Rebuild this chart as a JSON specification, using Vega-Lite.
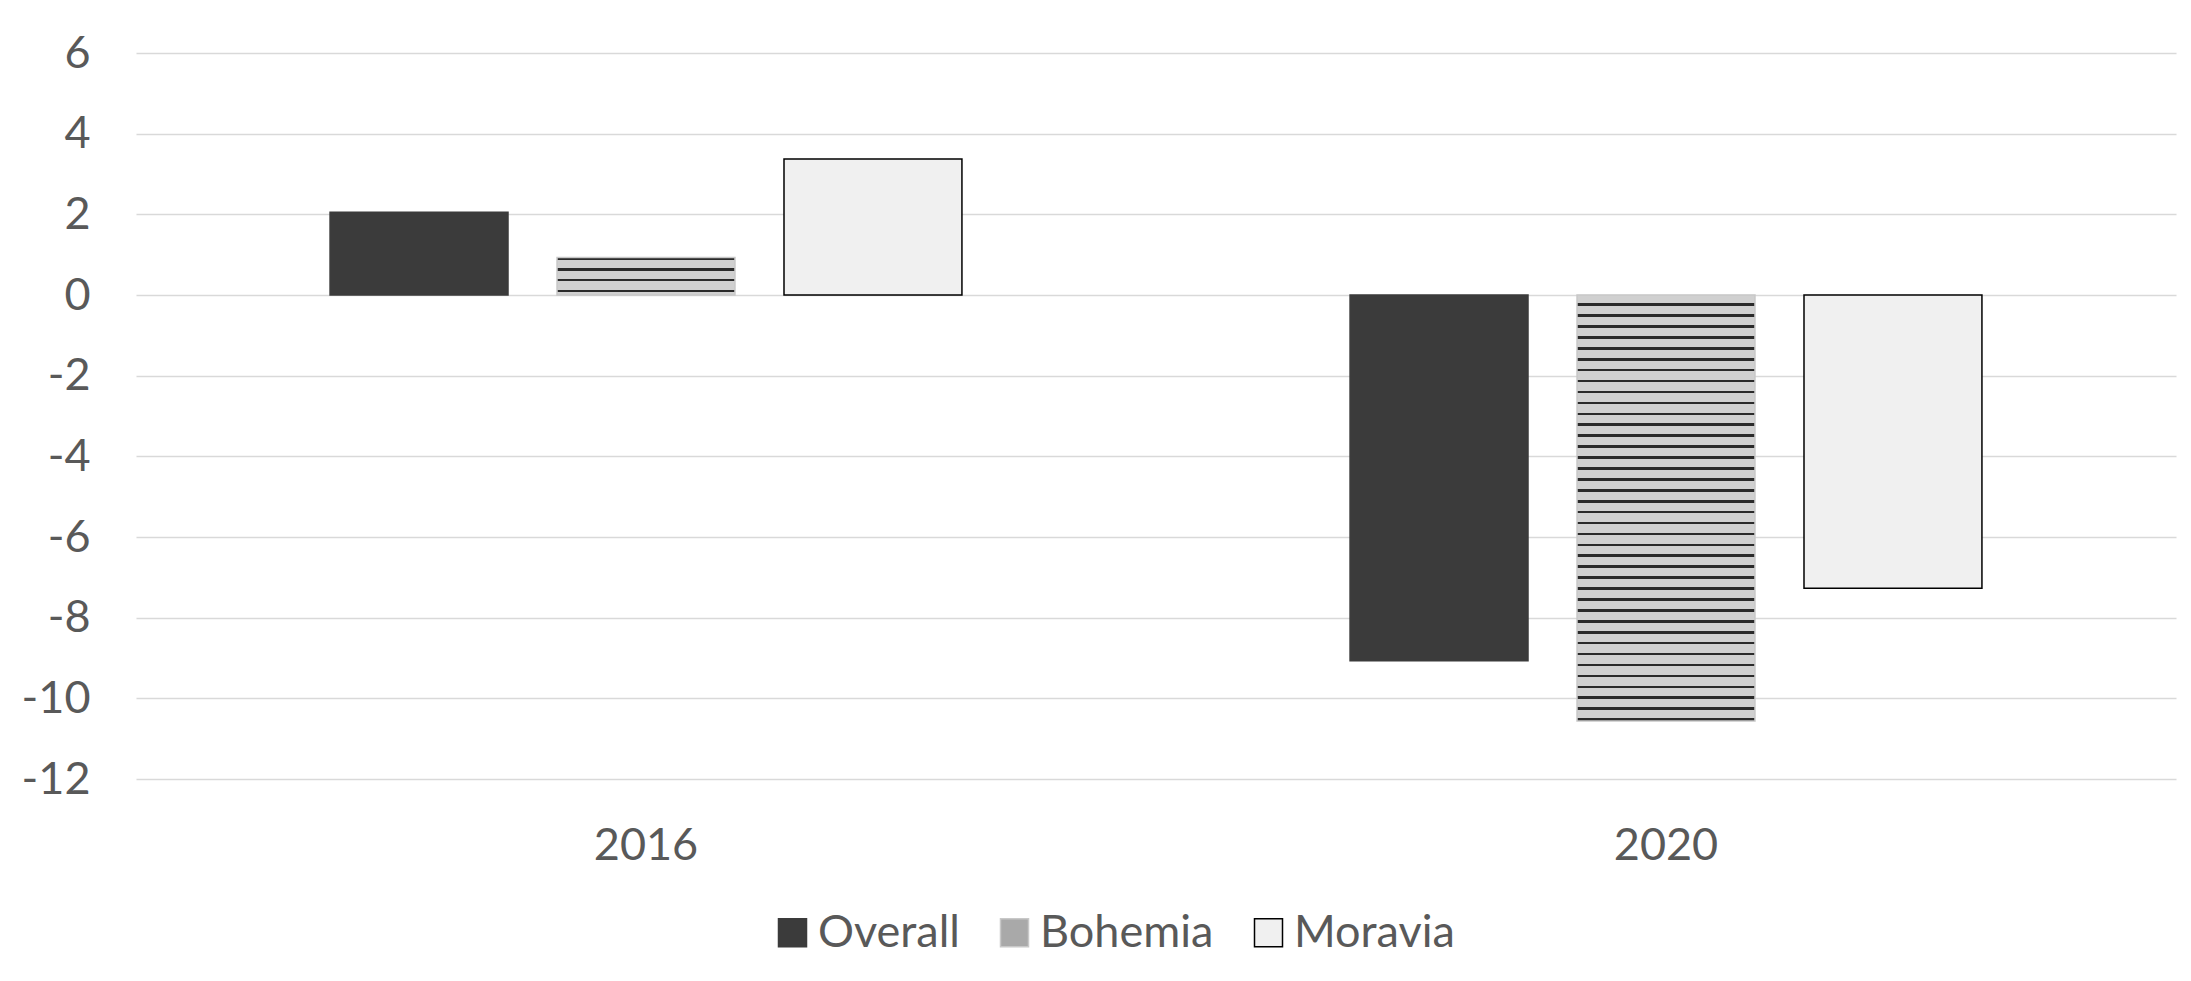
{
  "$schema": "https://vega.github.io/schema/vega-lite/v6.json",
  "width": 2040,
  "height": 726,
  "autosize": {"type": "none"},
  "padding": {"left": 136, "top": 53, "right": 15, "bottom": 202},
  "background": "white",
  "config": {
    "view": {"stroke": null},
    "font": "Lato",
    "axis": {"labelFont": "Lato", "labelFontSize": 45, "labelColor": "#595959"},
    "legend": {"labelFont": "Lato", "labelFontSize": 45, "labelColor": "#595959", "labelLimit": 500}
  },
  "data": {
    "values": [
      {"year": "2016", "series": "Overall", "value": 2.05},
      {"year": "2016", "series": "Bohemia", "value": 0.93},
      {"year": "2016", "series": "Moravia", "value": 3.37},
      {"year": "2020", "series": "Overall", "value": -9.07},
      {"year": "2020", "series": "Bohemia", "value": -10.56},
      {"year": "2020", "series": "Moravia", "value": -7.27}
    ]
  },
  "mark": {"type": "bar", "strokeWidth": 1.5},
  "encoding": {
    "x": {
      "field": "year",
      "type": "nominal",
      "scale": {"paddingInner": 0, "paddingOuter": 0},
      "axis": {"title": null, "labelAngle": 0, "domain": false, "ticks": false, "tickSize": 0, "labelPadding": 44}
    },
    "xOffset": {
      "field": "series",
      "type": "nominal",
      "sort": ["Overall", "Bohemia", "Moravia"],
      "scale": {"domain": ["Overall", "Bohemia", "Moravia"], "paddingInner": 0.216, "paddingOuter": 0.855}
    },
    "y": {
      "field": "value",
      "type": "quantitative",
      "scale": {"domain": [-12, 6], "nice": false},
      "axis": {
        "title": null,
        "values": [-12, -10, -8, -6, -4, -2, 0, 2, 4, 6],
        "labelExpr": "datum.value < 0 ? '-' + abs(datum.value) : '' + datum.value",
        "domain": false,
        "ticks": false,
        "tickSize": 0,
        "labelPadding": 46,
        "gridColor": "#d9d9d9",
        "gridWidth": 1.5
      }
    },
    "fill": {
      "field": "series",
      "type": "nominal",
      "scale": {"domain": ["Overall", "Bohemia", "Moravia"], "range": ["#3b3b3b", "#a9a9a9", "#f0f0f0"]},
      "legend": {
        "title": null,
        "orient": "none",
        "direction": "horizontal",
        "legendX": 634,
        "legendY": 857,
        "symbolType": "square",
        "symbolSize": 784,
        "symbolStrokeWidth": 1.5,
        "labelOffset": 3,
        "columnPadding": 32
      },
      "condition": [
        {
          "test": "datum.series === 'Bohemia' && datum.year === '2016'",
          "value": {
            "gradient": "linear", "x1": 0, "y1": 0, "x2": 0, "y2": 1,
            "stops": [
              {"offset": 0, "color": "#2a2a2a"}, {"offset": 0.062, "color": "#2a2a2a"},
              {"offset": 0.062, "color": "#d0d0d0"}, {"offset": 0.284, "color": "#d0d0d0"},
              {"offset": 0.284, "color": "#2a2a2a"}, {"offset": 0.349, "color": "#2a2a2a"},
              {"offset": 0.349, "color": "#d0d0d0"}, {"offset": 0.571, "color": "#d0d0d0"},
              {"offset": 0.571, "color": "#2a2a2a"}, {"offset": 0.636, "color": "#2a2a2a"},
              {"offset": 0.636, "color": "#d0d0d0"}, {"offset": 0.857, "color": "#d0d0d0"},
              {"offset": 0.857, "color": "#2a2a2a"}, {"offset": 0.922, "color": "#2a2a2a"},
              {"offset": 0.922, "color": "#d0d0d0"}, {"offset": 1, "color": "#d0d0d0"}
            ]
          }
        },
        {
          "test": "datum.series === 'Bohemia' && datum.year === '2020'",
          "value": {
            "gradient": "linear", "x1": 0, "y1": 0, "x2": 0, "y2": 1,
            "stops": [
              {"offset": 0, "color": "#d0d0d0"}, {"offset": 0.0195, "color": "#d0d0d0"}, {"offset": 0.0195, "color": "#2a2a2a"}, {"offset": 0.0256, "color": "#2a2a2a"},
              {"offset": 0.0256, "color": "#d0d0d0"}, {"offset": 0.0451, "color": "#d0d0d0"}, {"offset": 0.0451, "color": "#2a2a2a"}, {"offset": 0.0513, "color": "#2a2a2a"},
              {"offset": 0.0513, "color": "#d0d0d0"}, {"offset": 0.0708, "color": "#d0d0d0"}, {"offset": 0.0708, "color": "#2a2a2a"}, {"offset": 0.0769, "color": "#2a2a2a"},
              {"offset": 0.0769, "color": "#d0d0d0"}, {"offset": 0.0964, "color": "#d0d0d0"}, {"offset": 0.0964, "color": "#2a2a2a"}, {"offset": 0.1026, "color": "#2a2a2a"},
              {"offset": 0.1026, "color": "#d0d0d0"}, {"offset": 0.1221, "color": "#d0d0d0"}, {"offset": 0.1221, "color": "#2a2a2a"}, {"offset": 0.1282, "color": "#2a2a2a"},
              {"offset": 0.1282, "color": "#d0d0d0"}, {"offset": 0.1477, "color": "#d0d0d0"}, {"offset": 0.1477, "color": "#2a2a2a"}, {"offset": 0.1538, "color": "#2a2a2a"},
              {"offset": 0.1538, "color": "#d0d0d0"}, {"offset": 0.1733, "color": "#d0d0d0"}, {"offset": 0.1733, "color": "#2a2a2a"}, {"offset": 0.1795, "color": "#2a2a2a"},
              {"offset": 0.1795, "color": "#d0d0d0"}, {"offset": 0.1990, "color": "#d0d0d0"}, {"offset": 0.1990, "color": "#2a2a2a"}, {"offset": 0.2051, "color": "#2a2a2a"},
              {"offset": 0.2051, "color": "#d0d0d0"}, {"offset": 0.2246, "color": "#d0d0d0"}, {"offset": 0.2246, "color": "#2a2a2a"}, {"offset": 0.2308, "color": "#2a2a2a"},
              {"offset": 0.2308, "color": "#d0d0d0"}, {"offset": 0.2503, "color": "#d0d0d0"}, {"offset": 0.2503, "color": "#2a2a2a"}, {"offset": 0.2564, "color": "#2a2a2a"},
              {"offset": 0.2564, "color": "#d0d0d0"}, {"offset": 0.2759, "color": "#d0d0d0"}, {"offset": 0.2759, "color": "#2a2a2a"}, {"offset": 0.2821, "color": "#2a2a2a"},
              {"offset": 0.2821, "color": "#d0d0d0"}, {"offset": 0.3015, "color": "#d0d0d0"}, {"offset": 0.3015, "color": "#2a2a2a"}, {"offset": 0.3077, "color": "#2a2a2a"},
              {"offset": 0.3077, "color": "#d0d0d0"}, {"offset": 0.3272, "color": "#d0d0d0"}, {"offset": 0.3272, "color": "#2a2a2a"}, {"offset": 0.3333, "color": "#2a2a2a"},
              {"offset": 0.3333, "color": "#d0d0d0"}, {"offset": 0.3528, "color": "#d0d0d0"}, {"offset": 0.3528, "color": "#2a2a2a"}, {"offset": 0.3590, "color": "#2a2a2a"},
              {"offset": 0.3590, "color": "#d0d0d0"}, {"offset": 0.3785, "color": "#d0d0d0"}, {"offset": 0.3785, "color": "#2a2a2a"}, {"offset": 0.3846, "color": "#2a2a2a"},
              {"offset": 0.3846, "color": "#d0d0d0"}, {"offset": 0.4041, "color": "#d0d0d0"}, {"offset": 0.4041, "color": "#2a2a2a"}, {"offset": 0.4103, "color": "#2a2a2a"},
              {"offset": 0.4103, "color": "#d0d0d0"}, {"offset": 0.4297, "color": "#d0d0d0"}, {"offset": 0.4297, "color": "#2a2a2a"}, {"offset": 0.4359, "color": "#2a2a2a"},
              {"offset": 0.4359, "color": "#d0d0d0"}, {"offset": 0.4554, "color": "#d0d0d0"}, {"offset": 0.4554, "color": "#2a2a2a"}, {"offset": 0.4615, "color": "#2a2a2a"},
              {"offset": 0.4615, "color": "#d0d0d0"}, {"offset": 0.4810, "color": "#d0d0d0"}, {"offset": 0.4810, "color": "#2a2a2a"}, {"offset": 0.4872, "color": "#2a2a2a"},
              {"offset": 0.4872, "color": "#d0d0d0"}, {"offset": 0.5067, "color": "#d0d0d0"}, {"offset": 0.5067, "color": "#2a2a2a"}, {"offset": 0.5128, "color": "#2a2a2a"},
              {"offset": 0.5128, "color": "#d0d0d0"}, {"offset": 0.5323, "color": "#d0d0d0"}, {"offset": 0.5323, "color": "#2a2a2a"}, {"offset": 0.5385, "color": "#2a2a2a"},
              {"offset": 0.5385, "color": "#d0d0d0"}, {"offset": 0.5579, "color": "#d0d0d0"}, {"offset": 0.5579, "color": "#2a2a2a"}, {"offset": 0.5641, "color": "#2a2a2a"},
              {"offset": 0.5641, "color": "#d0d0d0"}, {"offset": 0.5836, "color": "#d0d0d0"}, {"offset": 0.5836, "color": "#2a2a2a"}, {"offset": 0.5897, "color": "#2a2a2a"},
              {"offset": 0.5897, "color": "#d0d0d0"}, {"offset": 0.6092, "color": "#d0d0d0"}, {"offset": 0.6092, "color": "#2a2a2a"}, {"offset": 0.6154, "color": "#2a2a2a"},
              {"offset": 0.6154, "color": "#d0d0d0"}, {"offset": 0.6349, "color": "#d0d0d0"}, {"offset": 0.6349, "color": "#2a2a2a"}, {"offset": 0.6410, "color": "#2a2a2a"},
              {"offset": 0.6410, "color": "#d0d0d0"}, {"offset": 0.6605, "color": "#d0d0d0"}, {"offset": 0.6605, "color": "#2a2a2a"}, {"offset": 0.6667, "color": "#2a2a2a"},
              {"offset": 0.6667, "color": "#d0d0d0"}, {"offset": 0.6862, "color": "#d0d0d0"}, {"offset": 0.6862, "color": "#2a2a2a"}, {"offset": 0.6923, "color": "#2a2a2a"},
              {"offset": 0.6923, "color": "#d0d0d0"}, {"offset": 0.7118, "color": "#d0d0d0"}, {"offset": 0.7118, "color": "#2a2a2a"}, {"offset": 0.7179, "color": "#2a2a2a"},
              {"offset": 0.7179, "color": "#d0d0d0"}, {"offset": 0.7374, "color": "#d0d0d0"}, {"offset": 0.7374, "color": "#2a2a2a"}, {"offset": 0.7436, "color": "#2a2a2a"},
              {"offset": 0.7436, "color": "#d0d0d0"}, {"offset": 0.7631, "color": "#d0d0d0"}, {"offset": 0.7631, "color": "#2a2a2a"}, {"offset": 0.7692, "color": "#2a2a2a"},
              {"offset": 0.7692, "color": "#d0d0d0"}, {"offset": 0.7887, "color": "#d0d0d0"}, {"offset": 0.7887, "color": "#2a2a2a"}, {"offset": 0.7949, "color": "#2a2a2a"},
              {"offset": 0.7949, "color": "#d0d0d0"}, {"offset": 0.8144, "color": "#d0d0d0"}, {"offset": 0.8144, "color": "#2a2a2a"}, {"offset": 0.8205, "color": "#2a2a2a"},
              {"offset": 0.8205, "color": "#d0d0d0"}, {"offset": 0.8400, "color": "#d0d0d0"}, {"offset": 0.8400, "color": "#2a2a2a"}, {"offset": 0.8462, "color": "#2a2a2a"},
              {"offset": 0.8462, "color": "#d0d0d0"}, {"offset": 0.8656, "color": "#d0d0d0"}, {"offset": 0.8656, "color": "#2a2a2a"}, {"offset": 0.8718, "color": "#2a2a2a"},
              {"offset": 0.8718, "color": "#d0d0d0"}, {"offset": 0.8913, "color": "#d0d0d0"}, {"offset": 0.8913, "color": "#2a2a2a"}, {"offset": 0.8974, "color": "#2a2a2a"},
              {"offset": 0.8974, "color": "#d0d0d0"}, {"offset": 0.9169, "color": "#d0d0d0"}, {"offset": 0.9169, "color": "#2a2a2a"}, {"offset": 0.9231, "color": "#2a2a2a"},
              {"offset": 0.9231, "color": "#d0d0d0"}, {"offset": 0.9426, "color": "#d0d0d0"}, {"offset": 0.9426, "color": "#2a2a2a"}, {"offset": 0.9487, "color": "#2a2a2a"},
              {"offset": 0.9487, "color": "#d0d0d0"}, {"offset": 0.9682, "color": "#d0d0d0"}, {"offset": 0.9682, "color": "#2a2a2a"}, {"offset": 0.9744, "color": "#2a2a2a"},
              {"offset": 0.9744, "color": "#d0d0d0"}, {"offset": 0.9938, "color": "#d0d0d0"}, {"offset": 0.9938, "color": "#2a2a2a"}, {"offset": 1, "color": "#2a2a2a"}
            ]
          }
        }
      ]
    },
    "stroke": {
      "field": "series",
      "type": "nominal",
      "scale": {"domain": ["Overall", "Bohemia", "Moravia"], "range": ["#3b3b3b", "#c8c8c8", "#000000"]},
      "legend": null
    }
  }
}
